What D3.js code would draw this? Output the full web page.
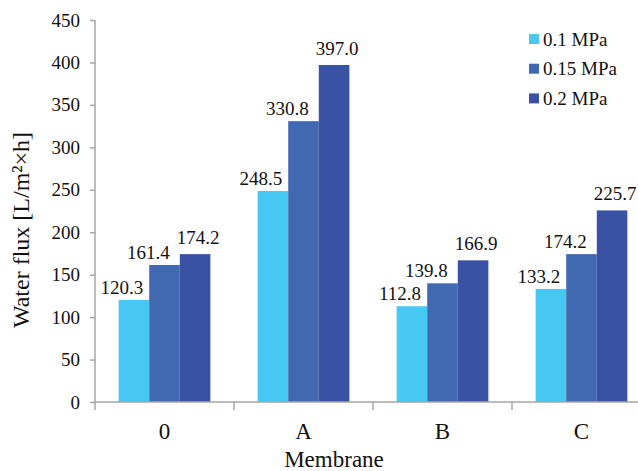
<!DOCTYPE html>
<html><head><meta charset="utf-8">
<script src="https://cdn.jsdelivr.net/npm/d3@7"></script>
<style>
#chart text { font-family: "Liberation Serif", "Times New Roman", serif; }
</style>
</head>
<body style="margin:0">
<svg id="chart" width="638" height="471"></svg>
<script>
const categories = ["0", "A", "B", "C"];
const seriesNames = ["0.1 MPa", "0.15 MPa", "0.2 MPa"];
const values01 = [120.3, 248.5, 112.8, 133.2];
const values015 = [161.4, 330.8, 139.8, 174.2];
const values02 = [174.2, 397.0, 166.9, 225.7];
const yTicks = [0, 50, 100, 150, 200, 250, 300, 350, 400, 450];
const colors = ["#46C8F2", "#4169B1", "#3A52A3"];
const labelDx = [-12, -16, 3];
const labelDy = [-6, -6, -10];

const seriesValues = [values01, values015, values02];
const svg = d3.select("#chart");
const mLeft = 95, mRight = 651, mTop = 20, mBottom = 402;

function txt(sel, size) {
  return sel.attr("font-family", "Liberation Serif")
    .style("font-family", "'Liberation Serif'")
    .attr("font-size", size).attr("fill", "#111");
}

const y = d3.scaleLinear().domain([0, 450]).range([mBottom, mTop]);
const xCat = d3.scaleBand().domain(categories).range([mLeft, mRight]).padding(0);
const x0 = d3.scaleBand().domain(categories).range([mLeft, mRight]).paddingInner(0.34).paddingOuter(0.17);
const x1 = d3.scaleBand().domain(d3.range(seriesNames.length)).range([0, x0.bandwidth()]).padding(0);

// bars
const groups = svg.append("g").selectAll("g").data(categories).join("g")
  .attr("transform", d => `translate(${x0(d)},0)`);
groups.selectAll("rect").data((c, ci) => seriesValues.map((s, si) => ({si, v: s[ci]})))
  .join("rect")
  .attr("x", d => x1(d.si))
  .attr("y", d => y(d.v))
  .attr("width", x1.bandwidth())
  .attr("height", d => y(0) - y(d.v))
  .attr("fill", d => colors[d.si]);

// data labels
txt(groups.selectAll("text").data((c, ci) => seriesValues.map((s, si) => ({si, v: s[ci]})))
  .join("text")
  .attr("x", d => x1(d.si) + x1.bandwidth() / 2 + labelDx[d.si])
  .attr("y", d => y(d.v) + labelDy[d.si])
  .attr("text-anchor", "middle"), 19)
  .text(d => d.v.toFixed(1));

// y axis
const yAxis = svg.append("g").attr("transform", `translate(${mLeft},0)`)
  .call(d3.axisLeft(y).tickValues(yTicks).tickSize(5).tickPadding(10));
yAxis.attr("font-family", "Liberation Serif").attr("font-size", 19);
yAxis.select(".domain").attr("stroke", "#A6A6A6").attr("stroke-width", 1.5).attr("d", `M0,${mTop}V${mBottom}`);
yAxis.selectAll(".tick line").attr("stroke", "#A6A6A6").attr("stroke-width", 1.5);
txt(yAxis.selectAll(".tick text"), 19);

// x axis
const xg = svg.append("g");
xg.append("line").attr("x1", mLeft).attr("x2", mRight).attr("y1", mBottom).attr("y2", mBottom)
  .attr("stroke", "#A6A6A6").attr("stroke-width", 1.5);
xg.selectAll("line.tk").data(categories.concat(["end"])).join("line").attr("class", "tk")
  .attr("x1", d => d === "end" ? mRight : xCat(d)).attr("x2", d => d === "end" ? mRight : xCat(d))
  .attr("y1", mBottom).attr("y2", mBottom + 8)
  .attr("stroke", "#A6A6A6").attr("stroke-width", 1.5);
txt(xg.selectAll("text").data(categories).join("text")
  .attr("x", d => xCat(d) + xCat.bandwidth() / 2)
  .attr("y", 439)
  .attr("text-anchor", "middle"), 23)
  .text(d => d);

// axis titles
txt(svg.append("text").attr("x", 334).attr("y", 467).attr("text-anchor", "middle"), 23)
  .text("Membrane");
txt(svg.append("text").attr("transform", "translate(29,230) rotate(-90)").attr("text-anchor", "middle"), 24)
  .text("Water flux [L/m²×h]");

// legend
const lg = svg.append("g").selectAll("g").data(seriesNames).join("g")
  .attr("transform", (d, i) => `translate(529,${39 + i * 29.7})`);
lg.append("rect").attr("x", 0).attr("y", -5).attr("width", 10).attr("height", 10)
  .attr("fill", (d, i) => colors[i]);
txt(lg.append("text").attr("x", 14).attr("y", 6.5), 19).text(d => d);
</script>
</body></html>
